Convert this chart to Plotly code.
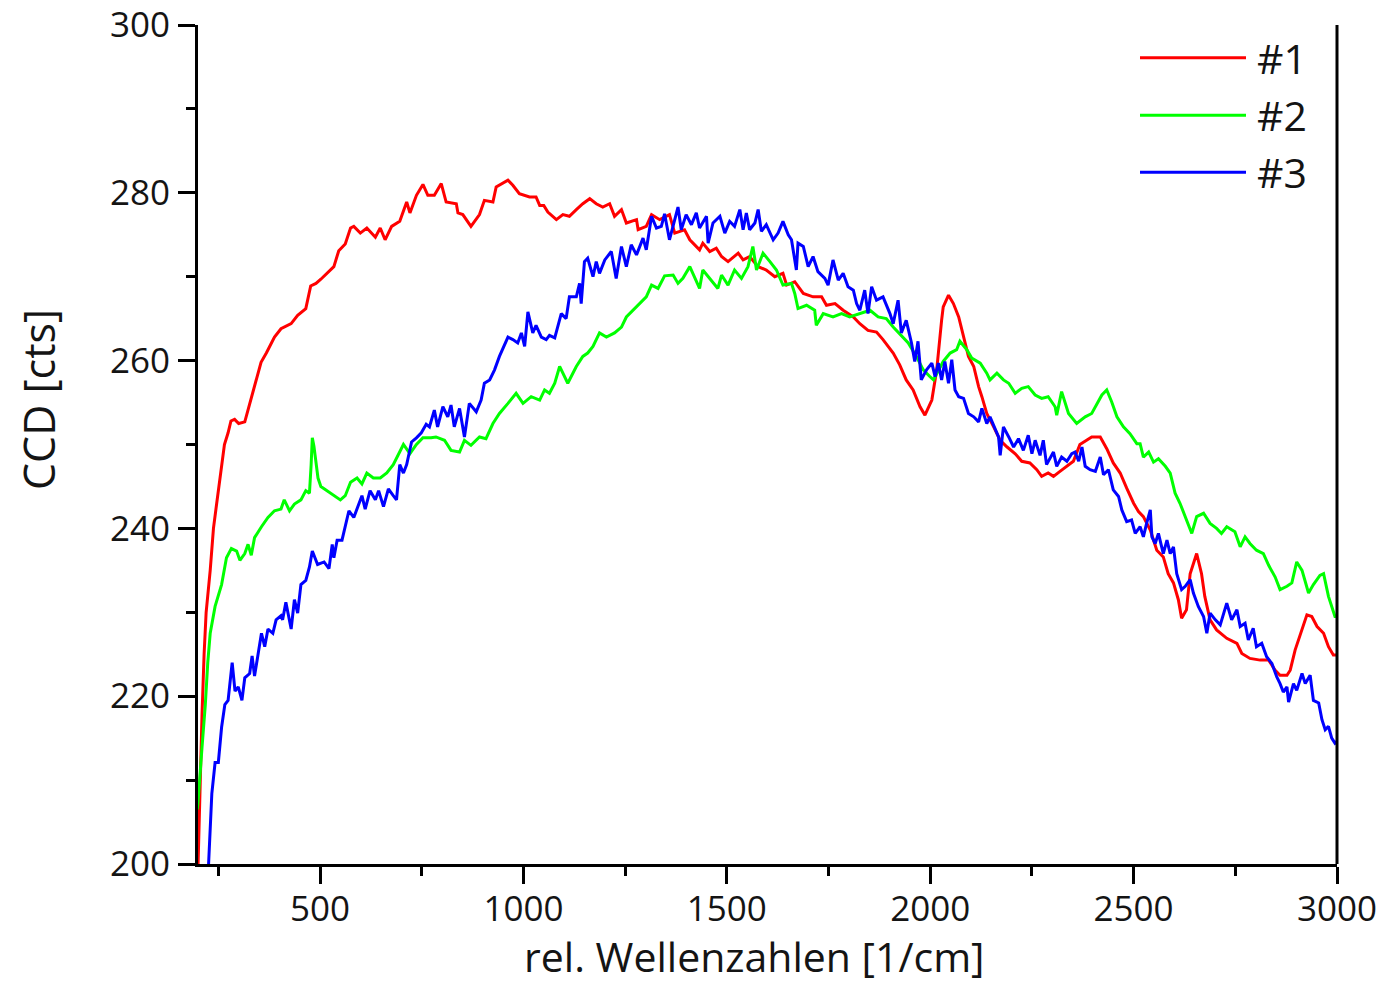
import plotly.graph_objects as go

# Raman spectra, three samples: wavenumber (1/cm) vs CCD counts
x1 = [198, 200, 205, 210, 215, 220, 230, 238, 246, 256, 265, 274, 281, 290, 300, 315, 327, 339, 355, 368,
      388, 404, 429, 445, 465, 477, 490, 502, 518, 534, 546, 562, 575, 583, 599, 615, 636, 648, 660, 676,
      696, 713, 721, 737, 753, 765, 781, 798, 810, 835, 839, 851, 871, 892, 904, 925, 933, 962, 974, 990,
      1015, 1031, 1040, 1050, 1060, 1081, 1097, 1113, 1130, 1146, 1163, 1179, 1195, 1212, 1224, 1241, 1253,
      1278, 1282, 1302, 1315, 1335, 1359, 1372, 1396, 1409, 1433, 1441, 1458, 1474, 1487, 1503, 1528, 1540,
      1556, 1577, 1597, 1618, 1638, 1647, 1667, 1688, 1712, 1733, 1745, 1766, 1786, 1811, 1827, 1847, 1868,
      1884, 1909, 1925, 1941, 1958, 1975, 1987, 2004, 2016, 2028, 2032, 2045, 2057, 2070, 2082, 2094, 2107,
      2119, 2127, 2139, 2156, 2172, 2189, 2209, 2225, 2245, 2262, 2274, 2290, 2303, 2319, 2336, 2352, 2368,
      2385, 2397, 2418, 2434, 2450, 2467, 2483, 2500, 2512, 2524, 2541, 2557, 2573, 2585, 2598, 2610, 2618,
      2630, 2639, 2655, 2667, 2675, 2688, 2704, 2729, 2754, 2766, 2786, 2811, 2832, 2848, 2860, 2877, 2885,
      2897, 2910, 2926, 2938, 2951, 2967, 2979, 2991, 3000]
y1 = [196, 200, 210, 218, 225, 230, 235, 240, 243, 247, 250, 251.4, 252.8, 253, 252.5, 252.7, 254.8, 257.2,
      259.8, 260.9, 262.8, 263.8, 264.4, 265.4, 266.2, 268.9, 269.2, 269.7, 270.5, 271.2, 273.1, 273.9, 275.8,
      276, 275.2, 275.8, 274.7, 275.8, 274.4, 276, 276.6, 278.9, 277.6, 279.7, 281, 279.7, 279.7, 281.1, 278.9,
      278.7, 277.6, 277.4, 276.0, 277.4, 279.1, 278.9, 280.7, 281.5, 280.9, 279.9, 279.5, 279.5, 278.5, 278.5,
      277.7, 276.8, 277.4, 277.2, 278.0, 278.7, 279.3, 278.7, 278.3, 278.7, 277.2, 278.0, 276.4, 276.8, 275.6,
      276.0, 277.4, 276.8, 277.4, 275.2, 275.6, 274.4, 273.2, 274.0, 273.0, 273.4, 272.4, 271.8, 272.8, 272.0,
      272.4, 271.2, 270.8, 270.0, 270.4, 269.0, 269.4, 268.0, 267.6, 267.6, 266.6, 266.8, 266.0, 265.2, 264.4,
      263.6, 263.4, 262.5, 260.9, 259.5, 257.7, 256.5, 254.5, 253.5, 255.3, 258.9, 264.8, 266.4, 267.8, 266.8,
      265.2, 262.8, 260.5, 259.3, 256.9, 255.7, 253.7, 252.1, 250.5, 249.7, 248.9, 248.0, 247.8, 247.0, 246.2,
      246.6, 246.2, 246.8, 247.4, 248.0, 250.0, 250.5, 250.9, 250.9, 249.5, 247.8, 246.6, 244.8, 243.0, 242.0,
      241.4, 239.8, 237.4, 236.6, 234.6, 233.5, 231.5, 229.3, 230.3, 234.6, 237.0, 234.6, 231.9, 229.1, 227.9,
      226.9, 226.3, 225.1, 224.5, 224.3, 224.3, 223.1, 222.5, 222.5, 223.1, 225.5, 227.5, 229.7, 229.5, 228.3,
      227.5, 225.9, 224.9, 224.9]

x2 = [198, 200, 210, 218, 224, 230, 242, 258, 270, 282, 295, 303, 315, 323, 331, 339, 356, 372, 388, 404,
      412, 425, 437, 453, 465, 474, 478, 481, 485, 489, 495, 502, 518, 534, 550, 562, 575, 591, 603, 615,
      631, 648, 664, 680, 692, 705, 721, 737, 753, 773, 785, 806, 822, 843, 855, 871, 892, 908, 925, 941,
      962, 982, 999, 1019, 1040, 1052, 1064, 1077, 1089, 1109, 1130, 1146, 1158, 1171, 1187, 1204, 1224,
      1241, 1253, 1269, 1286, 1302, 1315, 1331, 1347, 1368, 1380, 1392, 1409, 1425, 1433, 1441, 1458, 1478,
      1487, 1503, 1519, 1536, 1552, 1564, 1573, 1589, 1606, 1622, 1638, 1659, 1667, 1675, 1696, 1716, 1720,
      1737, 1761, 1782, 1802, 1827, 1852, 1872, 1892, 1909, 1925, 1946, 1966, 1983, 1999, 2008, 2032, 2049,
      2065, 2073, 2090, 2102, 2123, 2139, 2147, 2164, 2180, 2193, 2209, 2225, 2241, 2258, 2274, 2290, 2307,
      2311, 2323, 2340, 2360, 2381, 2397, 2410, 2422, 2434, 2446, 2459, 2475, 2491, 2508, 2516, 2524, 2537,
      2549, 2561, 2578, 2590, 2602, 2614, 2627, 2643, 2655, 2672, 2688, 2704, 2716, 2729, 2749, 2762, 2774,
      2786, 2802, 2819, 2832, 2848, 2860, 2877, 2889, 2901, 2914, 2930, 2942, 2958, 2967, 2979, 2995, 3000]
y2 = [206.5, 207.3, 214, 219.0, 224, 227.5, 230.7, 233.3, 236.5, 237.6, 237.3, 236.2, 237.0, 238.1, 236.8,
      238.9, 240.2, 241.3, 242.1, 242.3, 243.4, 242.1, 242.9, 243.4, 244.5, 244.2, 247.5, 250.8, 249.8, 248.2,
      246, 245.0, 244.5, 243.9, 243.4, 243.9, 245.5, 246.0, 245.3, 246.6, 246.0, 246.0, 246.6, 247.6, 248.7,
      250.0, 248.9, 250.0, 250.8, 250.8, 250.9, 250.5, 249.3, 249.1, 250.5, 249.9, 250.9, 250.7, 252.5, 253.7,
      254.9, 256.1, 254.9, 255.7, 255.3, 256.5, 256.1, 257.3, 259.3, 257.3, 259.3, 260.5, 260.9, 261.7, 263.3,
      262.8, 263.3, 264.0, 265.2, 266.0, 266.8, 267.6, 269.0, 268.6, 270.1, 270.2, 269.2, 269.8, 271.2, 269.6,
      268.6, 270.8, 269.8, 268.6, 270.2, 269.0, 270.8, 269.8, 271.2, 273.6, 270.8, 272.8, 271.8, 270.8, 269.0,
      269.2, 268.0, 266.2, 266.6, 266.0, 264.2, 265.6, 265.2, 265.6, 265.2, 265.6, 266.0, 265.2, 265.0, 264.0,
      263.2, 262.1, 260.5, 258.9, 258.1, 257.7, 259.9, 260.9, 261.3, 262.3, 261.3, 260.3, 259.7, 258.5, 257.7,
      258.5, 257.7, 257.3, 256.1, 256.7, 256.9, 255.9, 255.5, 255.7, 254.5, 253.5, 256.3, 253.7, 252.5, 253.3,
      253.7, 254.9, 255.9, 256.5, 255.1, 253.3, 252.1, 251.3, 250.1, 250.1, 248.5, 249.1, 247.9, 248.3, 247.4,
      246.6, 244.2, 243.0, 241.4, 239.4, 241.4, 241.8, 240.6, 240.0, 239.4, 240.2, 239.6, 237.8, 239.0, 238.2,
      237.4, 237.0, 235.6, 234.2, 232.7, 233.1, 233.5, 236.0, 235.0, 232.3, 233.3, 234.4, 234.6, 231.9, 229.5,
      229.5]

x3 = [221, 226, 234, 242, 250, 258, 266, 274, 284, 291, 299, 308, 315, 327, 333, 339, 347, 356, 364, 372,
      384, 392, 404, 408, 416, 429, 437, 445, 453, 465, 474, 481, 494, 510, 522, 530, 534, 542, 554, 562,
      571, 583, 591, 603, 611, 623, 636, 644, 656, 668, 680, 688, 696, 705, 713, 725, 737, 749, 761, 769,
      781, 789, 802, 814, 822, 830, 843, 855, 867, 884, 896, 904, 917, 929, 941, 954, 962, 974, 986, 995,
      1003, 1011, 1023, 1031, 1044, 1056, 1064, 1077, 1085, 1093, 1105, 1113, 1130, 1138, 1142, 1150, 1158,
      1171, 1179, 1187, 1200, 1216, 1228, 1241, 1253, 1265, 1278, 1294, 1302, 1315, 1327, 1339, 1347, 1359,
      1372, 1380, 1388, 1400, 1413, 1425, 1433, 1450, 1454, 1466, 1483, 1495, 1507, 1519, 1532, 1540, 1548,
      1556, 1569, 1577, 1585, 1597, 1614, 1626, 1638, 1651, 1659, 1671, 1675, 1688, 1700, 1712, 1724, 1741,
      1749, 1761, 1774, 1786, 1798, 1811, 1819, 1827, 1839, 1847, 1856, 1868, 1884, 1901, 1909, 1921, 1929,
      1941, 1954, 1962, 1970, 1978, 1991, 2004, 2012, 2020, 2028, 2036, 2045, 2053, 2061, 2070, 2082, 2094,
      2107, 2119, 2127, 2139, 2147, 2160, 2168, 2172, 2180, 2193, 2205, 2217, 2229, 2241, 2250, 2258, 2270,
      2278, 2286, 2303, 2311, 2323, 2336, 2348, 2356, 2365, 2373, 2381, 2393, 2406, 2418, 2426, 2438, 2450,
      2463, 2471, 2483, 2495, 2504, 2516, 2524, 2532, 2541, 2545, 2553, 2561, 2573, 2582, 2590, 2598, 2606,
      2618, 2627, 2639, 2647, 2659, 2672, 2680, 2688, 2701, 2713, 2729, 2741, 2754, 2762, 2774, 2782, 2794,
      2802, 2815, 2827, 2840, 2852, 2860, 2868, 2877, 2881, 2893, 2901, 2914, 2922, 2934, 2942, 2955, 2963,
      2971, 2979, 2987, 2995, 3000]
y3 = [196, 200, 208.4, 212.1, 212.1, 216.3, 219.0, 219.5, 224.0, 220.6, 221.1, 219.5, 222.2, 222.7, 224.8,
      222.4, 224.8, 227.5, 225.9, 228.0, 227.5, 229.1, 229.6, 229.1, 231.2, 228.0, 231.5, 229.9, 233.3, 233.8,
      235.4, 237.3, 235.7, 236.0, 235.2, 238.1, 236.5, 238.6, 238.6, 240.2, 242.1, 241.3, 242.3, 243.9, 242.3,
      244.5, 243.4, 244.5, 242.6, 244.7, 243.9, 243.4, 247.6, 246.6, 247.6, 250.3, 250.8, 251.4, 252.4, 252.1,
      254.1, 252.1, 254.5, 253.3, 254.7, 252.1, 254.3, 250.9, 254.9, 253.9, 255.3, 257.3, 257.7, 258.9, 260.5,
      261.9, 262.8, 262.5, 262.1, 263.3, 261.7, 265.8, 263.3, 264.2, 262.8, 262.5, 263.0, 262.7, 264.2, 265.6,
      265.0, 267.6, 267.6, 269.2, 266.8, 271.8, 272.2, 270.0, 271.8, 270.4, 272.0, 273.0, 269.8, 273.6, 271.2,
      273.8, 272.6, 274.6, 273.2, 277.2, 275.8, 276.0, 277.5, 274.4, 276.8, 278.3, 275.6, 277.4, 276.2, 277.6,
      275.8, 277.2, 274.0, 276.4, 277.2, 275.2, 276.6, 276.0, 278.0, 275.6, 277.6, 275.6, 276.4, 278.0, 275.4,
      276.2, 274.4, 275.2, 276.6, 275.0, 274.4, 270.8, 274.0, 273.6, 271.2, 272.4, 270.6, 269.8, 269.0, 272.0,
      269.6, 270.4, 268.8, 268.4, 266.8, 266.0, 268.4, 265.6, 268.8, 267.2, 267.6, 265.6, 264.4, 267.2, 263.3,
      264.8, 262.1, 259.9, 262.3, 257.7, 258.9, 259.7, 258.1, 259.7, 257.7, 259.9, 257.3, 260.1, 256.5, 255.7,
      255.5, 253.7, 253.3, 252.7, 254.3, 252.5, 253.3, 251.7, 250.9, 248.7, 252.1, 250.9, 249.7, 250.7, 249.3,
      251.1, 248.9, 250.5, 248.7, 250.5, 247.6, 249.1, 247.4, 248.5, 248.0, 248.9, 249.1, 248.0, 249.7, 247.4,
      247.0, 246.8, 248.5, 246.4, 247.0, 244.6, 243.8, 242.2, 240.8, 241.0, 239.4, 240.2, 239.0, 240.6, 242.2,
      239.0, 238.2, 239.4, 237.0, 238.6, 237.0, 237.8, 234.6, 232.7, 233.1, 233.9, 232.3, 230.7, 229.5, 227.5,
      229.9, 229.1, 228.5, 231.1, 229.1, 230.3, 228.3, 228.7, 226.7, 228.1, 225.9, 226.3, 224.7, 223.9, 222.3,
      221.5, 220.5, 221.1, 219.3, 221.5, 220.7, 222.7, 221.5, 222.5, 219.5, 219.2, 217.2, 216.0, 216.4, 215.0,
      214.4, 214.6]

names = ["#1", "#2", "#3"]
colors = ["#ff0000", "#00ff00", "#0000ff"]

FONT = "Open Sans"
TEXT = "#141414"
W, H = 1394, 986
L, R, T, B = 198, 57, 25, 122

fig = go.Figure()
for xs, ys, name, col in zip([x1, x2, x3], [y1, y2, y3], names, colors):
    fig.add_trace(go.Scatter(x=xs, y=ys, mode="lines", name=name,
                             line=dict(color=col, width=3), showlegend=False))

axis_common = dict(
    showline=True, linecolor="black", linewidth=3,
    ticks="outside", ticklen=17, tickwidth=3, tickcolor="black",
    showgrid=False, zeroline=False, automargin=False,
    tickfont=dict(family=FONT, size=35, color=TEXT),
)

fig.update_xaxes(range=[200, 3000], tick0=0, dtick=500,
                 minor=dict(ticks="outside", ticklen=9, tickwidth=3, tickcolor="black", dtick=250, tick0=0),
                 ticklabelstandoff=-5, **axis_common)
fig.update_yaxes(range=[200, 300], tick0=200, dtick=20,
                 minor=dict(ticks="outside", ticklen=9, tickwidth=3, tickcolor="black", dtick=10, tick0=200),
                 ticklabelstandoff=1, **axis_common)

pw = W - L - R
ph = H - T - B


def px_x(p):
    return (p - L) / pw


def px_y(p):
    return 1 - (p - T) / ph


shapes = [
    # right-hand frame line
    dict(type="line", xref="paper", yref="paper", x0=1, x1=1, y0=0, y1=1,
         line=dict(color="black", width=3)),
]
annotations = [
    dict(text="rel. Wellenzahlen [1/cm]", xref="paper", yref="paper",
         x=px_x(754), y=px_y(956), xanchor="center", yanchor="middle", showarrow=False,
         font=dict(family=FONT, size=41, color=TEXT)),
    dict(text="CCD [cts]", xref="paper", yref="paper", textangle=-90,
         x=px_x(38), y=px_y(400), xanchor="center", yanchor="middle", showarrow=False,
         font=dict(family=FONT, size=43, color=TEXT)),
]

# legend drawn as long line samples with labels
leg_y = [57.7, 115.3, 172.3]
for ly, name, col in zip(leg_y, names, colors):
    shapes.append(dict(type="line", xref="paper", yref="paper",
                       x0=px_x(1140), x1=px_x(1246), y0=px_y(ly), y1=px_y(ly),
                       line=dict(color=col, width=3)))
    annotations.append(dict(text=name, xref="paper", yref="paper",
                            x=px_x(1255), y=px_y(ly), xanchor="left", yanchor="middle",
                            showarrow=False, font=dict(family=FONT, size=41, color=TEXT)))

fig.update_layout(
    width=W, height=H,
    margin=dict(l=L, r=R, t=T, b=B, pad=0, autoexpand=False),
    paper_bgcolor="white", plot_bgcolor="white",
    shapes=shapes, annotations=annotations,
    showlegend=False,
)

fig.write_html("out.html")
